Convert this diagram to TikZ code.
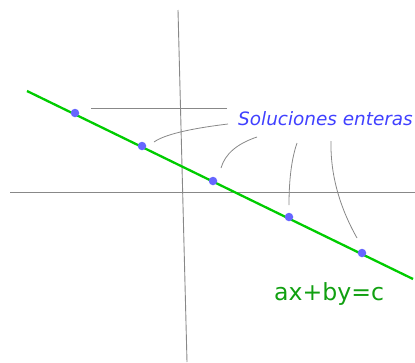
\documentclass[tikz,border=0pt]{standalone}
\usepackage{fontspec}
\setmainfont{DejaVu Sans}
\definecolor{dotblue}{RGB}{102,102,255}
\definecolor{lblblue}{RGB}{64,64,255}
\definecolor{linegreen}{RGB}{0,204,0}
\definecolor{txtgreen}{RGB}{17,160,17}
\definecolor{axisgray}{RGB}{136,136,136}
\tikzset{
  axisline/.style={draw=axisgray, line width=0.9pt},
  leader/.style={draw=axisgray, line width=0.8pt},
  sol/.style={circle, fill=dotblue, inner sep=0pt, minimum size=8.5pt},
}
\begin{document}
\begin{tikzpicture}[x=1pt,y=-1pt]
\useasboundingbox (0,0) rectangle (415,362);
% axes
\coordinate (vt) at (178,10);
\coordinate (vb) at (187,362);
\coordinate (hl) at (10,192);
\coordinate (hr) at (415,192);
\draw[axisline] (vt) -- (vb);
\draw[axisline] (hl) -- (hr);
% solution line
\coordinate (ls) at (27,91);
\coordinate (le) at (413,279);
\draw[linegreen, line width=2.3pt] (ls) -- (le);
% integer solutions
\node[sol] (p1) at (75,113) {};
\node[sol] (p2) at (142,146) {};
\node[sol] (p3) at (213,181) {};
\node[sol] (p4) at (289,217) {};
\node[sol] (p5) at (362,253) {};
% labels
\node[anchor=base west, inner sep=0pt, text=lblblue, font=\fontsize{18.4}{20}\selectfont\itshape] (lbl) at (238,125) {Soluciones enteras};
\node[anchor=base west, inner sep=0pt, text=txtgreen, font=\fontsize{23.6}{26}\selectfont] (eq) at (274,300) {ax+by=c};
% leaders
\coordinate (a1) at (227,108);
\coordinate (b1) at (91,108);
\coordinate (a2) at (228,124);
\coordinate (b2) at (154,142);
\coordinate (a3) at (257,137);
\coordinate (b3) at (221,168);
\coordinate (a4) at (297,143);
\coordinate (b4) at (289,205);
\coordinate (a5) at (331,141);
\coordinate (b5) at (357,238);
\draw[leader] (a1) -- (b1);
\draw[leader] (a2) .. controls (189,128.7) and (164.3,134.7) .. (b2);
\draw[leader] (a3) .. controls (237,143.7) and (225,154) .. (b3);
\draw[leader] (a4) .. controls (291.7,158.3) and (289,179) .. (b4);
\draw[leader] (a5) .. controls (330.3,173.7) and (339,206) .. (b5);
\end{tikzpicture}
\end{document}
